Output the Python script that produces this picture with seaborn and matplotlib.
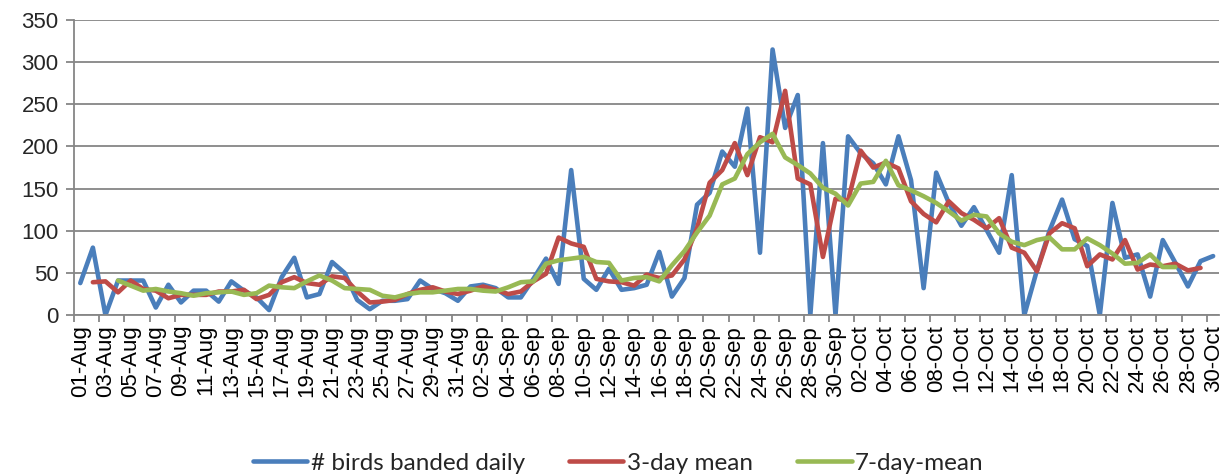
import numpy as np
import pandas as pd
import matplotlib
matplotlib.use("Agg")
import matplotlib.pyplot as plt
import seaborn as sns

# daily banding counts, 01-Aug .. 30-Oct
days = pd.date_range("2013-08-01", "2013-10-30").strftime("%d-%b").tolist()

daily = [38, 80, 0, 41, 41, 41, 9, 36, 15, 29,
         29, 16, 40, 29, 21, 6, 45, 68, 21, 25,
         63, 50, 18, 7, 17, 17, 19, 41, 31, 26,
         17, 34, 36, 32, 21, 21, 43, 67, 37, 172,
         43, 30, 55, 30, 32, 36, 75, 22, 44, 131,
         145, 194, 176, 245, 74, 315, 222, 261, 0, 204,
         0, 212, 192, 180, 155, 212, 160, 32, 169, 133,
         106, 128, 101, 74, 166, 0, 53, 100, 137, 90,
         82, 0, 133, 68, 72, 22, 89, 62, 34, 64,
         70]

# 3-day mean, 02-Aug .. 29-Oct
mean_3day = [39, 40, 27, 41, 31, 29, 20, 24, 24, 24,
             28, 28, 30, 19, 24, 39, 45, 38, 36, 46,
             44, 28, 15, 16, 18, 25, 30, 33, 28, 25,
             29, 34, 30, 25, 28, 40, 49, 92, 85, 81,
             43, 40, 39, 35, 48, 44, 47, 66, 103, 157,
             172, 204, 166, 211, 205, 266, 162, 155, 69, 138,
             136, 195, 175, 181, 174, 135, 120, 110, 135, 121,
             113, 103, 115, 80, 74, 52, 97, 109, 103, 58,
             72, 66, 89, 54, 60, 58, 61, 53, 56]

# 7-day mean, 04-Aug .. 27-Oct
mean_7day = [41, 35, 29, 31, 28, 26, 23, 26,
             27, 28, 24, 26, 35, 33, 32, 40, 47, 41,
             32, 31, 30, 23, 21, 25, 27, 27, 29, 31,
             31, 29, 28, 33, 39, 40, 61, 65, 67, 69,
             63, 62, 41, 44, 45, 40, 59, 76, 98, 118,
             155, 162, 191, 205, 215, 187, 178, 168, 151, 144,
             130, 156, 158, 183, 154, 148, 141, 133, 123, 112,
             119, 117, 97, 87, 83, 89, 92, 78, 78, 91,
             83, 73, 61, 62, 72, 57, 57]

series_names = ["# birds banded daily", "3-day mean", "7-day-mean"]
colors = ["#4A7EBB", "#BE4B48", "#98B954"]

frames = [
    pd.DataFrame({"day": np.arange(0, len(daily)), "birds": daily, "series": series_names[0]}),
    pd.DataFrame({"day": np.arange(1, 1 + len(mean_3day)), "birds": mean_3day, "series": series_names[1]}),
    pd.DataFrame({"day": np.arange(3, 3 + len(mean_7day)), "birds": mean_7day, "series": series_names[2]}),
]
df = pd.concat(frames, ignore_index=True)

sns.set_theme(style="white")
plt.rcParams["font.family"] = ["Liberation Sans", "DejaVu Sans"]
plt.rcParams["lines.solid_joinstyle"] = "round"
plt.rcParams["lines.solid_capstyle"] = "round"

grid_color = "#868686"

fig = plt.figure(figsize=(12.29, 4.76), dpi=100)
ax = fig.add_axes([0.0602, 0.338, 0.932, 0.62])

sns.lineplot(data=df, x="day", y="birds", hue="series", hue_order=series_names,
             palette=colors, linewidth=3.3, estimator=None, sort=False, ax=ax)

ax.set_xlim(-0.5, len(days) - 0.5)
ax.set_ylim(0, 350)
ax.set_yticks(range(0, 351, 50))
ax.yaxis.grid(True, color=grid_color, linewidth=1.3)
ax.set_axisbelow(True)

ax.set_xticks(range(0, len(days), 2))
ax.set_xticklabels(days[::2], rotation=90)
ax.set_xticks(np.arange(-0.5, len(days) - 1, 2), minor=True)
ax.tick_params(axis="x", which="major", length=0, pad=7, labelsize=16, colors="black")
ax.tick_params(axis="x", which="minor", length=5, width=1.3, color=grid_color, bottom=True)
ax.tick_params(axis="y", which="major", length=6, width=1.3, color=grid_color,
               left=True, labelsize=16, pad=5)
ax.set_xlabel("")
ax.set_ylabel("")

for side in ["top", "right"]:
    ax.spines[side].set_visible(False)
for side in ["left", "bottom"]:
    ax.spines[side].set_color(grid_color)
    ax.spines[side].set_linewidth(1.3)

sns.move_legend(ax, loc="center", bbox_to_anchor=(0.503, 0.027),
                bbox_transform=fig.transFigure, ncol=3, frameon=False, title=None,
                handlelength=2.25, columnspacing=1.8, handletextpad=0.15,
                prop={"family": ["Lato", "DejaVu Sans"], "size": 17.5})

fig.savefig("out.png", dpi=100)
